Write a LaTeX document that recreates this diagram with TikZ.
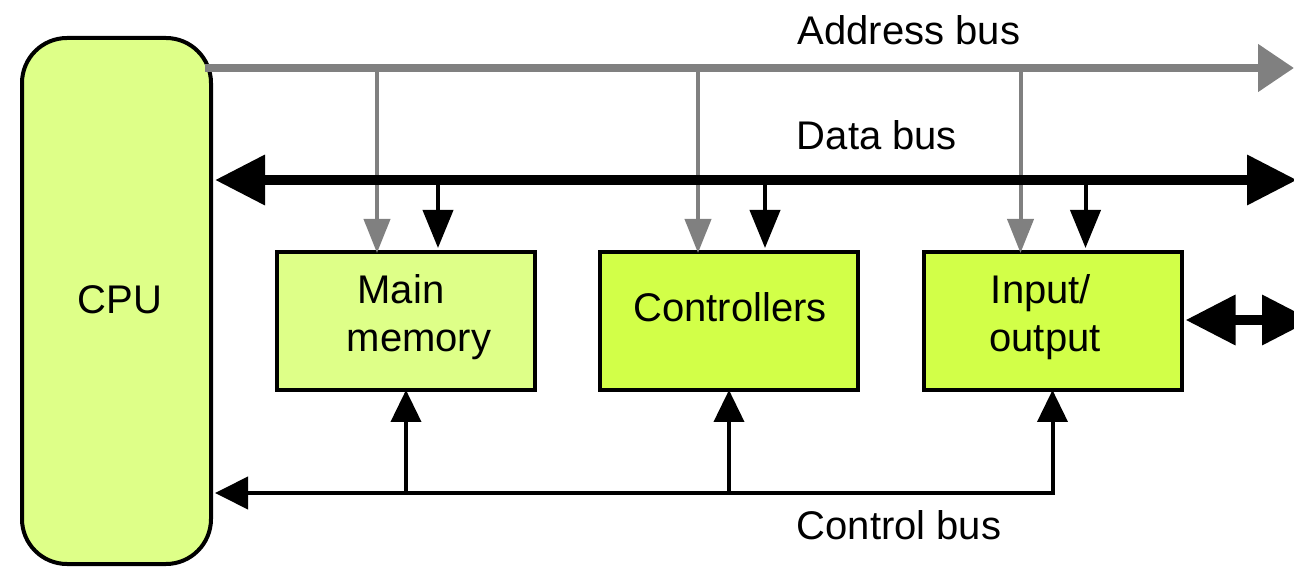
\documentclass[tikz,border=0pt]{standalone}
\usepackage{fontspec}
\setmainfont{Liberation Sans}
\usetikzlibrary{arrows.meta,calc}
\definecolor{lightlime}{HTML}{DEFF88}
\definecolor{brightlime}{HTML}{D2FF48}
\definecolor{addrgray}{gray}{0.5}
\begin{document}
\begin{tikzpicture}[x=1pt,y=-1pt,
  box/.style={draw=black,line width=4pt,minimum width=258pt,minimum height=138pt,inner sep=0pt,align=center,font=\fontsize{40}{48}\selectfont},
  lbl/.style={font=\fontsize{40}{48}\selectfont,inner sep=0pt},
  databus/.style={line width=10pt},
  addrbus/.style={line width=8pt,draw=addrgray},
  addrbranch/.style={line width=4pt,draw=addrgray,-{Triangle[length=34pt,width=26pt]}},
  databranch/.style={line width=4pt,-{Triangle[length=38pt,width=30pt]}},
  ctrlbranch/.style={line width=4pt,-{Triangle[length=32pt,width=30pt]}},
  bigtip/.tip={Triangle[length=50pt,width=48pt]}
]
\useasboundingbox (0,0) rectangle (1294,569);
% CPU
\node[draw=black,line width=4pt,fill=lightlime,rounded corners=45pt,minimum width=189pt,minimum height=526pt,inner sep=0pt] (cpu) at (116.5,301) {};
\node[lbl] (cputxt) at (120,300) {CPU};
% boxes
\node[box,fill=lightlime] (mm) at (406,321) {};
\node[box,fill=brightlime] (ctl) at (729,321) {};
\node[box,fill=brightlime] (io) at (1052.5,321) {};
\node[lbl,align=center] (mmtxt) at (419,317) {\hspace*{-36pt}Main\\ memory};
\node[lbl] (ctltxt) at (730,307) {Controllers};
\node[lbl,align=center] (iotxt) at (1045,317) {\hspace*{-8pt}Input/\\output};
% labels
\node[lbl] (addrlbl) at (909,30) {Address bus};
\node[lbl] (datalbl) at (877,135) {Data bus};
\node[lbl] (ctrllbl) at (899,525) {Control bus};
% address bus
\coordinate (a0) at (205,68);
\coordinate (a1) at (1294,68);
\draw[addrbus,-{Triangle[length=36pt,width=46pt]}] (a0) -- (a1);
\coordinate (am) at ($(mm.north)+(-29,0)$);
\coordinate (ac) at ($(ctl.north)+(-31,0)$);
\coordinate (ai) at ($(io.north)+(-32,0)$);
\draw[addrbranch] (am |- a0) -- ([yshift=-3pt]am);
\draw[addrbranch] (ac |- a0) -- ([yshift=-3pt]ac);
\draw[addrbranch] (ai |- a0) -- ([yshift=-3pt]ai);
% data bus
\coordinate (d0) at (215,180);
\coordinate (d1) at (1297,180);
\draw[databus,bigtip-bigtip] (d0) -- (d1);
\coordinate (dm) at ($(mm.north)+(32,-2)$);
\coordinate (dc) at ($(ctl.north)+(36,-2)$);
\coordinate (di) at ($(io.north)+(33,-2)$);
\draw[databranch] (dm |- d0) -- (dm);
\draw[databranch] (dc |- d0) -- (dc);
\draw[databranch] (di |- d0) -- (di);
% I/O external
\coordinate (ioext) at (1312,320);
\draw[databus,bigtip-bigtip] ([xshift=2pt]io.east |- ioext) -- (ioext);
% control bus
\coordinate (c0) at (215,493);
\coordinate (c1) at (1055,493);
\draw[line width=4pt,-{Triangle[length=33pt,width=32pt]}] (c1) -- (c0);
\draw[ctrlbranch] (mm.south |- c0) -- ([yshift=2pt]mm.south);
\draw[ctrlbranch] (ctl.south |- c0) -- ([yshift=2pt]ctl.south);
\draw[ctrlbranch] (io.south |- c0) -- ([yshift=2pt]io.south);
\end{tikzpicture}
\end{document}
